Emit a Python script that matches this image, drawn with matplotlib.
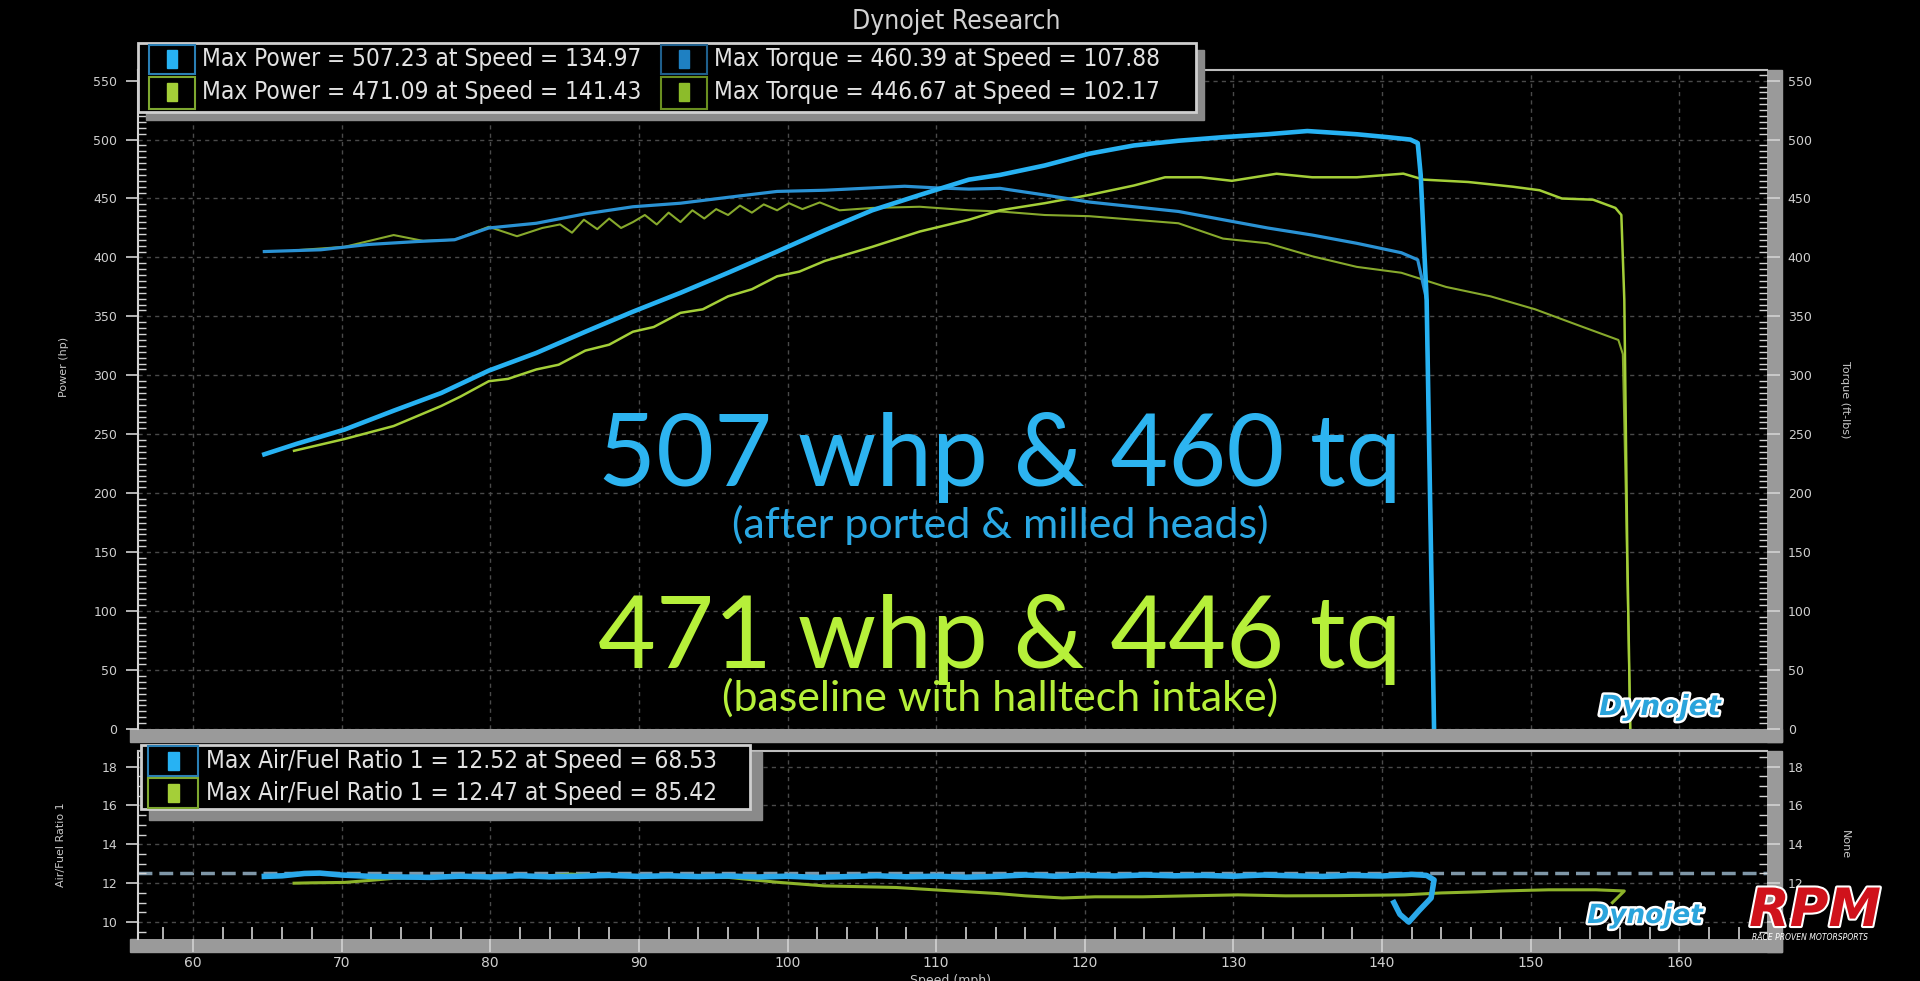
import matplotlib
matplotlib.use("Agg")
import matplotlib.pyplot as plt
from matplotlib.patches import Rectangle
from matplotlib.ticker import MultipleLocator
import matplotlib.patheffects as pe

# ---- data ----
# run 1 (blue): after ported & milled heads
b_pwr_speed = [64.8, 67.0, 70.2, 73.5, 76.7, 79.9, 83.1, 86.4, 89.6, 92.8, 96.0, 99.3, 102.5, 105.7, 108.9,
               112.2, 114.3, 117.3, 120.3, 123.3, 126.3, 129.3, 132.3, 134.97, 138.3, 140.4, 141.9, 142.4,
               142.6, 143.0, 143.5]
b_pwr = [233, 242, 254, 270, 285, 304, 319, 337, 354, 370, 387, 405, 423, 440, 453,
         466, 470, 478, 488, 495, 499, 502, 504.5, 507.23, 504.5, 502, 500, 497,
         470, 364, 0]
b_tq_speed = [64.8, 68.6, 71.8, 75.1, 77.6, 79.9, 83.1, 86.4, 89.6, 92.8, 96.0, 99.3, 102.5, 105.7, 107.88,
              110.0, 112.2, 114.3, 117.3, 120.3, 123.3, 126.3, 129.3, 132.3, 135.3, 138.3, 141.3, 142.4,
              143.0, 143.5]
b_tq = [405, 406.5, 411, 413.5, 415, 425, 429, 437, 443, 446, 451, 456, 457, 459, 460.39,
        459, 458, 458.6, 453, 447, 443, 439, 432, 425, 419, 412, 404, 398,
        364, 0]

# run 2 (green): baseline with halltech intake
g_pwr_speed = [66.8, 70.2, 73.5, 76.7, 78.0, 79.9, 81.2, 83.1, 84.6, 86.4, 88.0, 89.6, 91.0, 92.8, 94.3,
               96.0, 97.6, 99.3, 100.8, 102.5, 105.7, 108.9, 112.2, 114.3, 117.3, 120.3, 123.3, 125.4,
               127.8, 129.9, 132.9, 135.3, 138.3, 141.43, 142.8, 145.8, 148.8, 150.6, 152.1, 154.2,
               155.7, 156.1, 156.3, 156.5, 156.7]
g_pwr = [236, 246, 257, 274, 282, 295, 297, 305, 309, 321, 326, 337, 341, 353, 356,
         367, 373, 384, 388, 397, 409, 422, 432, 440, 446, 453, 461, 468,
         468, 465, 471, 468, 468, 471.09, 466, 464, 460, 457, 450, 449,
         442, 436, 364, 150, 0]
g_tq_speed = [66.8, 70.2, 73.5, 75.5, 77.6, 79.9, 81.8, 83.5, 84.7, 85.5, 86.3, 87.2, 88.0, 88.8, 89.6,
              90.4, 91.2, 92.0, 92.8, 93.6, 94.4, 95.2, 96.0, 96.8, 97.6, 98.4, 99.3, 100.1, 101.0,
              102.17, 103.5, 105.7, 108.9, 112.2, 114.3, 117.3, 120.3, 123.3, 126.3, 129.3, 132.3,
              135.3, 138.3, 141.3, 144.3, 147.3, 150.3, 153.3, 155.9, 156.2, 156.4, 156.7]
g_tq = [406, 409, 419, 414, 415, 426, 418, 425, 428, 421, 432, 424, 433, 425, 430,
        436, 428, 438, 430, 440, 433, 441, 436, 444, 438, 445, 440, 446, 441,
        446.67, 440, 442, 443, 440, 439, 436, 435, 432, 429, 416, 412,
        401, 392, 387, 375, 367, 356, 342, 330, 318, 200, 0]

# air / fuel ratio
b_afr_speed = [64.8, 66.0, 67.5, 68.53, 70, 72, 74, 76, 78, 80, 82, 84, 86, 88, 90, 92, 94, 96, 98, 100,
               102, 104, 106, 108, 110, 112, 114, 116, 118, 120, 122, 124, 126, 128, 130, 132, 134, 136,
               138, 140, 142, 143.0, 143.5, 143.3, 142.5, 141.8, 141.2, 140.8]
b_afr = [12.35, 12.38, 12.5, 12.52, 12.42, 12.35, 12.32, 12.3, 12.36, 12.32, 12.38, 12.33, 12.36, 12.4,
         12.35, 12.38, 12.34, 12.37, 12.32, 12.36, 12.3, 12.34, 12.38, 12.33, 12.36, 12.31, 12.35, 12.42,
         12.36, 12.4, 12.37, 12.42, 12.38, 12.4, 12.36, 12.42, 12.38, 12.35, 12.4, 12.37, 12.45, 12.4,
         12.17, 11.24, 10.6, 10.0, 10.4, 11.0]
g_afr_speed = [66.8, 68, 70.2, 72, 73.5, 76, 80, 84, 85.42, 88, 92, 96, 99.3, 102.5, 105, 107.3, 110.5,
               114.1, 116, 118.5, 120.7, 123.9, 127, 130.3, 133.5, 137, 141.5, 144, 146.3, 148, 151.2,
               154.4, 156.3, 155.9, 155.5]
g_afr = [12.0, 12.02, 12.04, 12.15, 12.25, 12.3, 12.32, 12.38, 12.47, 12.36, 12.34, 12.3, 12.05, 11.86,
         11.82, 11.78, 11.63, 11.47, 11.35, 11.24, 11.3, 11.3, 11.35, 11.4, 11.35, 11.36, 11.4, 11.5,
         11.55, 11.6, 11.66, 11.66, 11.6, 11.3, 11.0]
afr_max = 12.52

pwr_legend = ["Max Power = 507.23 at Speed = 134.97", "Max Power = 471.09 at Speed = 141.43"]
tq_legend = ["Max Torque = 460.39 at Speed = 107.88", "Max Torque = 446.67 at Speed = 102.17"]
afr_legend = ["Max Air/Fuel Ratio 1 = 12.52 at Speed = 68.53", "Max Air/Fuel Ratio 1 = 12.47 at Speed = 85.42"]

# colours
BLUE_P, BLUE_T = "#27b2f3", "#2a92d4"
GREEN_P, GREEN_T = "#a4cf38", "#87a92c"
UI = "#d2d2d2"
BAND = "#9a9a9a"

W, H = 1920, 981


def fx(x):
    return x / W


def fy(y):
    return 1 - y / H


def frect(x0, y0, x1, y1, **kw):
    # rectangle in pixel coords (y down) on the figure
    r = Rectangle((fx(x0), fy(y1)), fx(x1) - fx(x0), fy(y0) - fy(y1), transform=fig.transFigure, **kw)
    fig.add_artist(r)
    return r


fig = plt.figure(figsize=(19.2, 9.81), dpi=100, facecolor="black")
ax1 = fig.add_axes([fx(138), fy(729), fx(1767) - fx(138), fy(70) - fy(729)])
ax2 = fig.add_axes([fx(138), fy(939), fx(1767) - fx(138), fy(751) - fy(939)])

for ax in (ax1, ax2):
    ax.set_facecolor("black")
    ax.set_xlim(56.3, 165.9)
    ax.xaxis.set_major_locator(MultipleLocator(10))
    ax.xaxis.set_minor_locator(MultipleLocator(2))
    ax.grid(which="major", color="#4a4a4a", linestyle=(0, (3, 3)), lw=1)
    ax.spines["left"].set_color(UI)
    ax.spines["left"].set_linewidth(1.5)
    ax.spines["top"].set_color("#bdbdbd")
    ax.spines["top"].set_linewidth(1.5)
    ax.spines["right"].set_visible(False)
    ax.spines["bottom"].set_visible(False)
    ax.tick_params(axis="y", which="major", direction="out", length=9, width=1.2, color=UI,
                   labelcolor="#cfcfcf", labelsize=9, left=True, right=True,
                   labelleft=True, labelright=True, pad=6)
    ax.tick_params(axis="y", which="minor", direction="in", length=6, width=1, color=UI,
                   left=True, right=True)

# power / torque
ax1.set_ylim(0, 559)
ax1.yaxis.set_major_locator(MultipleLocator(50))
ax1.yaxis.set_minor_locator(MultipleLocator(5))
ax1.tick_params(axis="x", which="both", bottom=False, labelbottom=False)
ax1.plot(g_tq_speed, g_tq, color=GREEN_T, lw=1.5)
ax1.plot(g_pwr_speed, g_pwr, color=GREEN_P, lw=1.8)
ax1.plot(b_tq_speed, b_tq, color=BLUE_T, lw=2.3)
ax1.plot(b_pwr_speed, b_pwr, color=BLUE_P, lw=3.3)

# air / fuel
ax2.set_ylim(9.13, 18.8)
ax2.yaxis.set_major_locator(MultipleLocator(2))
ax2.yaxis.set_minor_locator(MultipleLocator(0.5))
ax2.tick_params(axis="x", which="major", direction="out", length=9, width=1.2, color=UI,
                labelcolor="#cfcfcf", labelsize=10, pad=3)
ax2.tick_params(axis="x", which="minor", direction="in", length=9, width=1.2, color=UI)
ax2.axhline(afr_max, color="#7f97a8", lw=2.5, dashes=(4, 2), zorder=1)
ax2.plot(g_afr_speed, g_afr, color="#8db32a", lw=2.2, zorder=2)
ax2.plot(b_afr_speed, b_afr, color="#2aa8ea", lw=4, zorder=3)

# bevelled gray frame strips
frect(1767, 70, 1782, 742, color=BAND, zorder=-1)
frect(130, 729, 1782, 742, color=BAND, zorder=-1)
frect(1767, 751, 1782, 952, color=BAND, zorder=-1)
frect(130, 939, 1782, 952, color=BAND, zorder=-1)

# axis labels and title
fig.text(fx(956), fy(22), "Dynojet Research", color=UI, fontsize=19, ha="center", va="center", fontstretch="condensed")
fig.text(fx(64), fy(367), "Power (hp)", color="#c8c8c8", fontsize=8, rotation=90, ha="center", va="center")
fig.text(fx(1845), fy(400), "Torque (ft-lbs)", color="#c8c8c8", fontsize=8, rotation=-90, ha="center", va="center")
fig.text(fx(61), fy(845), "Air/Fuel Ratio 1", color="#c8c8c8", fontsize=8, rotation=90, ha="center", va="center")
fig.text(fx(1845), fy(845), "None", color="#c8c8c8", fontsize=8, rotation=-90, ha="center", va="center")
fig.text(fx(950), fy(974), "Speed (mph)", color="#c8c8c8", fontsize=9, ha="center", va="top")

# top legend
frect(146, 50, 1204, 120, color="#8a8a8a", zorder=4)
frect(138, 43, 1196, 112, facecolor="black", edgecolor="#cfcfcf", lw=2, zorder=5)
legend_cols = [(149, BLUE_P, GREEN_P, "#2a7fb5", "#7ea830", pwr_legend),
               (661, "#1e80c2", "#8cbc2a", "#1f5f8c", "#6a8f20", tq_legend)]
rows = [(45, 74, 59), (77, 109, 92)]
for x0, c1, c2, o1, o2, texts in legend_cols:
    for (ya, yb, yc), fill, edge, txt in zip(rows, (c1, c2), (o1, o2), texts):
        frect(x0, ya, x0 + 46, yb, facecolor="black", edgecolor=edge, lw=1.5, zorder=6)
        frect(x0 + 18, yc - 9, x0 + 28, yc + 9, color=fill, zorder=7)
        fig.text(fx(x0 + 53), fy(yc), txt, color="#e2e2e2", fontsize=17.5, va="center", ha="left",
                 fontstretch="condensed", zorder=8)

# afr legend
frect(149, 752, 762, 820, color="#8a8a8a", zorder=4)
frect(141, 745, 750, 809, facecolor="black", edgecolor="#cfcfcf", lw=2, zorder=5)
for (ya, yb, yc), fill, edge, txt in zip([(746, 776, 761), (778, 808, 793)], (BLUE_P, GREEN_P),
                                         ("#2a7fb5", "#7ea830"), afr_legend):
    frect(148, ya, 198, yb, facecolor="black", edgecolor=edge, lw=1.5, zorder=6)
    frect(168, yc - 9, 179, yc + 9, color=fill, zorder=7)
    fig.text(fx(206), fy(yc), txt, color="#e2e2e2", fontsize=17.5, va="center", ha="left",
             fontstretch="condensed", zorder=8)

# video overlay captions
big = dict(family=["Lato", "DejaVu Sans"], weight="normal", ha="center", zorder=10)
fig.text(fx(1000), fy(486), "507 whp & 460 tq", color="#2db4f0", fontsize=72, va="baseline", **big)
fig.text(fx(1000), fy(525), "(after ported & milled heads)", color="#2aa8e4", fontsize=31, va="center", **big)
fig.text(fx(1000), fy(668), "471 whp & 446 tq", color="#b6f03a", fontsize=72, va="baseline", **big)
fig.text(fx(1000), fy(698), "(baseline with halltech intake)", color="#b6f03a", fontsize=31, va="center", **big)

# logos
logo_fx = [pe.withStroke(linewidth=3.5, foreground="white")]
fig.text(fx(1660), fy(707), "Dynojet", color="#2aa4dc", fontsize=20, style="italic", weight="bold",
         ha="center", va="center", path_effects=logo_fx, zorder=11)
fig.text(fx(1645), fy(916), "Dynojet", color="#2aa4dc", fontsize=19, style="italic", weight="bold",
         ha="center", va="center", path_effects=logo_fx, zorder=11)
fig.text(fx(1815), fy(911), "RPM", color="#d0121b", fontsize=38, style="italic", weight="bold",
         ha="center", va="center", path_effects=[pe.withStroke(linewidth=3, foreground="white")], zorder=12)
fig.text(fx(1810), fy(937), "RACE PROVEN MOTORSPORTS", color="white", fontsize=5.5, style="italic",
         ha="center", va="center", zorder=12)

plt.savefig("out.png", dpi=100, facecolor="black")
